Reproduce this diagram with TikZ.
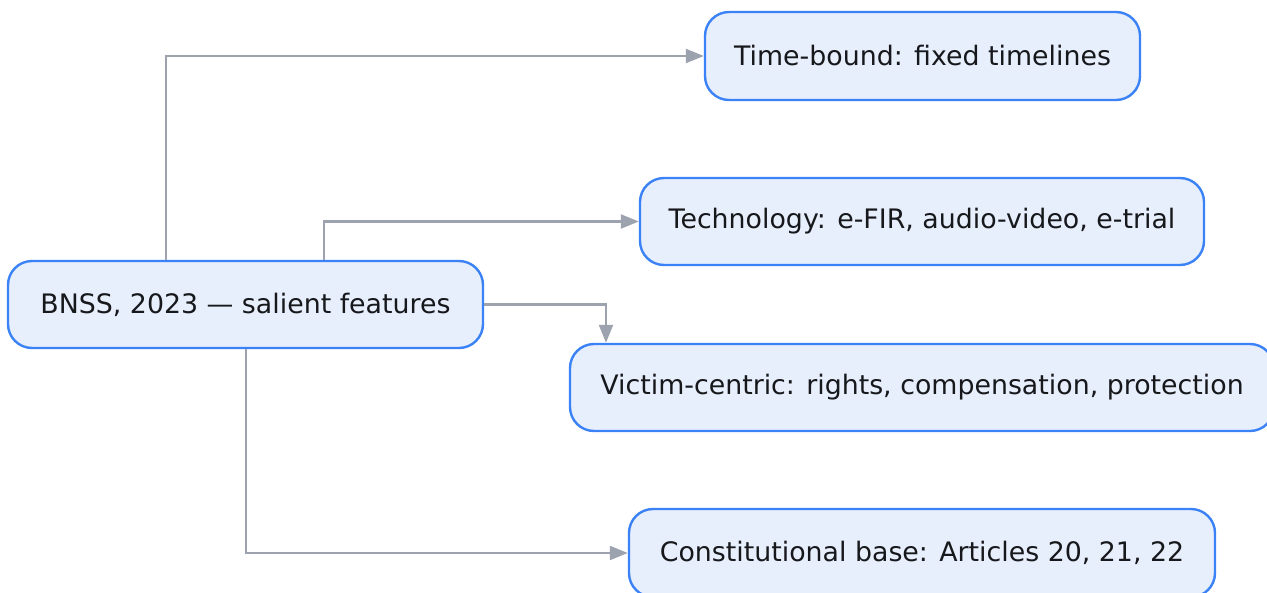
\documentclass[tikz,border=0pt]{standalone}
\usepackage{fontspec}
\setmainfont{DejaVu Sans}
\usetikzlibrary{arrows.meta}
\definecolor{boxfill}{HTML}{E8EFFC}
\definecolor{boxline}{HTML}{3B82F6}
\definecolor{arr}{HTML}{9CA3AF}
\definecolor{txt}{HTML}{16181C}
\tikzset{
  feat/.style={draw=boxline, fill=boxfill, line width=2.4pt, rounded corners=24pt,
    inner sep=0pt, text=txt, font=\fontsize{26.8}{30}\selectfont},
  conn/.style={draw=arr, line width=2.2pt, -{Triangle[length=18pt,width=14pt]}},
}
\begin{document}
\begin{tikzpicture}[x=1pt,y=-1pt]
\useasboundingbox (0,0) rectangle (1267,592);
\clip (0,0) rectangle (1267,592);
\node[feat, minimum width=475pt, minimum height=87pt] (b) at (245.5,304.5) {BNSS, 2023 — salient features};
\node[feat, minimum width=435pt, minimum height=88pt] (t) at (922.5,56) {Time-bound: fixed timelines};
\node[feat, minimum width=564pt, minimum height=87pt] (tech) at (922,221.5) {Technology: e-FIR, audio-video, e-trial};
\node[feat, minimum width=704pt, minimum height=87pt] (v) at (922,387.5) {Victim-centric: rights, compensation, protection};
\node[feat, minimum width=586pt, minimum height=88pt] (c) at (922,553) {Constitutional base: Articles 20, 21, 22};
\draw[conn] (b.north -| 166,0) |- (t.west);
\draw[conn] (b.north -| 324,0) |- (tech.west);
\draw[conn] (b.east) -| (v.north -| 606,0);
\draw[conn] (b.south -| 246,0) |- (c.west);
\end{tikzpicture}
\end{document}
